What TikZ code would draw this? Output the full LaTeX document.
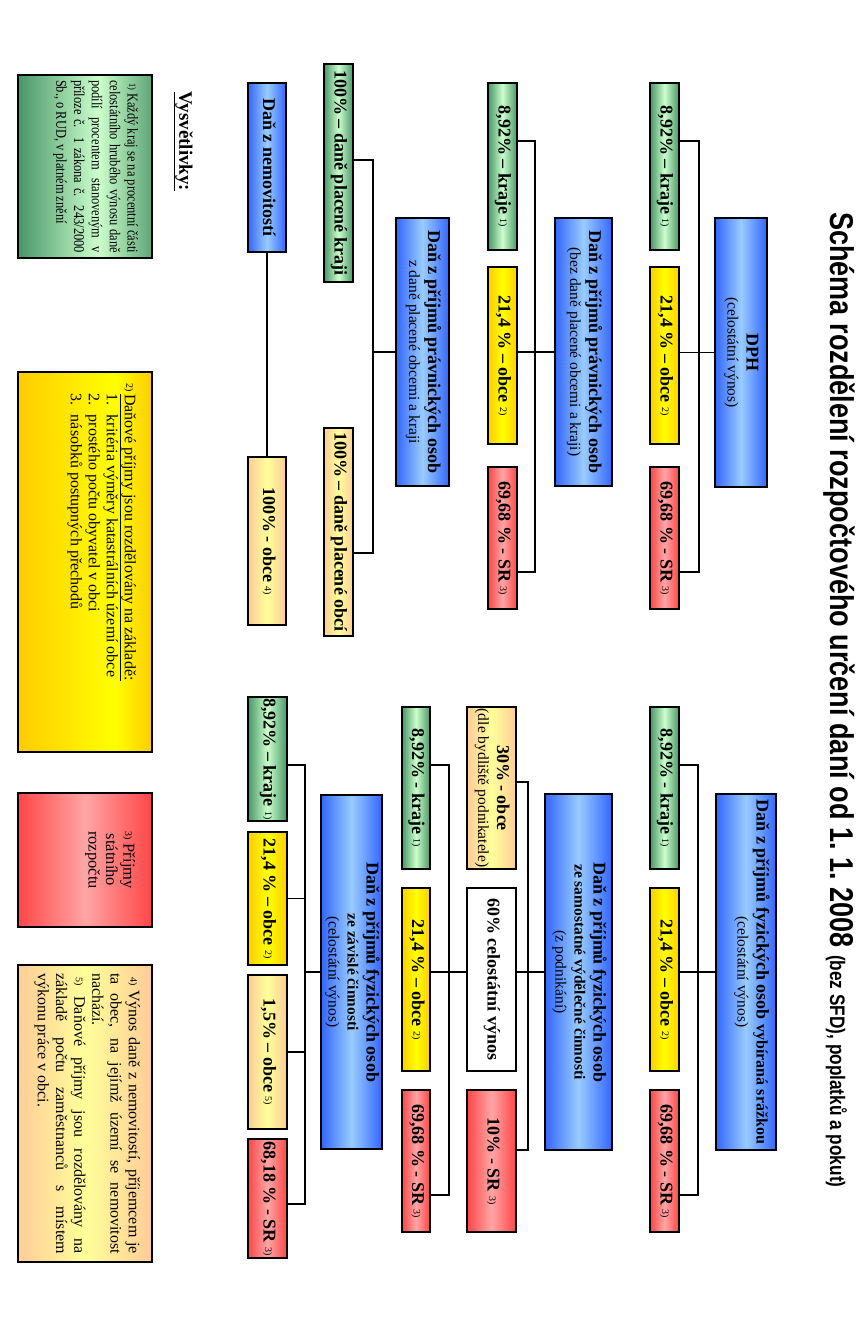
\documentclass[tikz,border=0pt]{standalone}
\usepackage{fontspec}
\setmainfont{Liberation Serif}
\newfontfamily\titlefont[FakeStretch=0.82]{Liberation Sans}
\newfontfamily\condfont[FakeStretch=0.83]{Liberation Serif}
\usepackage{graphicx}

\definecolor{gdark}{RGB}{72,150,104}
\definecolor{gmid}{RGB}{95,165,120}
\definecolor{glight}{RGB}{204,255,204}
\definecolor{ydark}{RGB}{255,204,0}
\definecolor{ylight}{RGB}{255,255,0}
\definecolor{rdark}{RGB}{255,70,70}
\definecolor{rlight}{RGB}{255,165,165}
\definecolor{bdark}{RGB}{51,102,255}
\definecolor{blight}{RGB}{153,204,255}
\definecolor{pdark}{RGB}{255,204,153}
\definecolor{plight}{RGB}{255,255,153}

\pgfdeclarehorizontalshading{legG}{100bp}{color(0bp)=(gdark); color(25bp)=(gdark); color(55bp)=(glight); color(75bp)=(gmid); color(100bp)=(gmid)}
\pgfdeclarehorizontalshading{legY}{100bp}{color(0bp)=(ydark); color(25bp)=(ydark); color(61bp)=(ylight); color(75bp)=(ydark); color(100bp)=(ydark)}

\newcommand\rt[1]{\rotatebox{-90}{\fontsize{15.5}{19}\selectfont\begin{tabular}{@{}c@{}}#1\end{tabular}}}
\newcommand\fnm[1]{\raisebox{1.5pt}{\fontsize{10}{10}\selectfont\mdseries #1}}
\newcommand\bt{\fontsize{18}{20}\selectfont\bfseries}
\newcommand\bs{\fontsize{15.5}{17}\selectfont\bfseries}

\tikzset{
  boxbase/.style={draw=black, line width=1.2pt, inner sep=0pt, align=center},
  gbox/.style={boxbase, left color=gdark, right color=gdark, middle color=glight},
  ybox/.style={boxbase, left color=ydark, right color=ydark, middle color=ylight},
  rbox/.style={boxbase, left color=rdark, right color=rdark, middle color=rlight},
  bbox/.style={boxbase, left color=bdark, right color=bdark, middle color=blight},
  pbox/.style={boxbase, left color=pdark, right color=pdark, middle color=plight},
  wbox/.style={boxbase, fill=white},
  lgbox/.style={boxbase, shade, shading=legG},
  lybox/.style={boxbase, shade, shading=legY},
  conn/.style={draw=black, line width=1.2pt},
  sz/.style 2 args={minimum width=#1pt, minimum height=#2pt},
}

\begin{document}
\begin{tikzpicture}[x=1pt,y=-1pt]
\useasboundingbox (0,0) rectangle (867,1339);

% ---------- title
\node[anchor=north, inner sep=0pt] (title) at (839,212) {\rotatebox{-90}{\titlefont\bfseries\fontsize{33}{36}\selectfont Schéma rozdělení rozpočtového určení daní od 1.~1.~2008 {\fontsize{21}{24}\selectfont (bez SFD), poplatků a pokut)}}};

% ---------- DPH
\node[bbox, sz={52}{269}] (dph) at (741,352.5) {\rt{\bt DPH\\(celostátní výnos)}};
\node[gbox, sz={29}{167}] (gA) at (664.5,166.5) {\rt{\bt 8,92\% – kraje \fnm{1)}}};
\node[ybox, sz={29}{177}] (yA) at (664.5,355.5) {\rt{\bt 21,4 \% – obce \fnm{2)}}};
\node[rbox, sz={29}{142}] (rA) at (664.5,538) {\rt{\bt 69,68 \% - SR \fnm{3)}}};
\coordinate (kA1) at (699,141);
\coordinate (kA3) at (699,572);
\draw[conn] (gA.east |- kA1) -- (kA1) -- (kA3) -- (rA.east |- kA3);
\draw[conn] (yA.east |- dph.west) -- (dph.west);

% ---------- DPPO (bez dane placene obcemi a kraji)
\node[bbox, sz={57}{268}] (pB) at (583.5,352) {\rt{\bt Daň z příjmů právnických osob\\(bez daně placené obcemi a kraji)}};
\node[gbox, sz={29}{167}] (gB) at (502.5,166.5) {\rt{\bt 8,92\% – kraje \fnm{1)}}};
\node[ybox, sz={29}{177}] (yB) at (502.5,355.5) {\rt{\bt 21,4 \% – obce \fnm{2)}}};
\node[rbox, sz={29}{142}] (rB) at (502.5,538) {\rt{\bt 69,68 \% - SR \fnm{3)}}};
\coordinate (kB1) at (535,141);
\coordinate (kB3) at (535,572);
\draw[conn] (gB.east |- kB1) -- (kB1) -- (kB3) -- (rB.east |- kB3);
\draw[conn] (yB.east |- pB.west) -- (pB.west);

% ---------- DPPO placena obcemi a kraji
\node[bbox, sz={53}{268}] (pC) at (422.5,352) {\rt{\bt Daň z příjmů právnických osob\\z daně placené obcemi a kraji}};
\node[gbox, sz={29}{218}] (gC) at (338.5,173) {\rt{\bt 100\% – daně placené kraji}};
\node[pbox, sz={29}{208}] (peC) at (338.5,532) {\rt{\bt 100\% – daně placené obcí}};
\coordinate (kC1) at (373,160);
\coordinate (kC3) at (373,553);
\draw[conn] (gC.east |- kC1) -- (kC1) -- (kC3) -- (peC.east |- kC3);
\draw[conn] (kC1 |- pC.west) -- (pC.west);

% ---------- dan z nemovitosti
\node[bbox, sz={38}{169}] (nem) at (267,167.5) {\rt{\bt Daň z nemovitostí}};
\node[pbox, sz={38}{168}] (peD) at (267,541) {\rt{\bt 100\% - obce \fnm{4)}}};
\draw[conn] (nem.south) -- (peD.north);

% ---------- DPFO srazkou
\node[bbox, sz={60}{356}] (vE) at (746,972) {\hspace*{10pt}\rt{\bt Daň z příjmů fyzických osob {\fontsize{16}{18}\selectfont vybíraná srážkou}\\(celostátní výnos)}};
\node[gbox, sz={29}{162}] (gE) at (664.5,788) {\rt{\bt 8,92\% - kraje \fnm{1)}}};
\node[ybox, sz={29}{183}] (yE) at (664.5,979.5) {\rt{\bt 21,4 \% – obce \fnm{2)}}};
\node[rbox, sz={29}{142}] (rE) at (664.5,1161) {\rt{\bt 69,68 \% - SR \fnm{3)}}};
\coordinate (kE1) at (698,765);
\coordinate (kE3) at (698,1195);
\draw[conn] (gE.east |- kE1) -- (kE1) -- (kE3) -- (rE.east |- kE3);
\draw[conn] (yE.east |- vE.west) -- (vE.west);

% ---------- DPFO z podnikani
\node[bbox, sz={67}{356}] (sF) at (578.5,972) {\rt{\bt Daň z příjmů fyzických osob\\ \bs ze samostatné výdělečné činnosti\\(z podnikání)}};
\node[pbox, sz={49}{162}] (peF) at (491.5,788) {\rt{\bt 30\% - obce\\(dle bydliště podnikatele)}};
\node[wbox, sz={49}{183}] (wF) at (491.5,979.5) {\rt{\bt 60\% celostátní výnos}};
\node[rbox, sz={49}{142}] (rF2) at (491.5,1161) {\rt{\bt 10\% - SR \fnm{3)}}};
\node[gbox, sz={28}{162}] (gF) at (416,788) {\rt{\bt 8,92\% - kraje \fnm{1)}}};
\node[ybox, sz={28}{183}] (yF) at (416,979.5) {\rt{\bt 21,4 \% – obce \fnm{2)}}};
\node[rbox, sz={28}{142}] (rF) at (416,1161) {\rt{\bt 69,68 \% - SR \fnm{3)}}};
\coordinate (kF1) at (449,765);
\coordinate (kF3) at (449,1195);
\coordinate (kF21) at (528,782);
\coordinate (kF23) at (528,1150);
\draw[conn] (gF.east |- kF1) -- (kF1) -- (kF3) -- (rF.east |- kF3);
\draw[conn] (yF.east |- sF.west) -- (wF.west |- sF.west);
\draw[conn] (peF.east |- kF21) -- (kF21) -- (kF23) -- (rF2.east |- kF23);
\draw[conn] (wF.east |- sF.west) -- (sF.west);

% ---------- DPFO ze zavisle cinnosti
\node[bbox, sz={61}{354}] (zG) at (351.5,972) {\rt{\bt Daň z příjmů fyzických osob\\ \bs ze závislé činnosti\\(celostátní výnos)}};
\node[gbox, sz={39}{124}] (gG) at (267.5,759) {\rt{\bt 8,92\% – kraje \fnm{1)}}};
\node[ybox, sz={39}{133}] (yG) at (267.5,898.5) {\rt{\bt 21,4 \% – obce \fnm{2)}}};
\node[pbox, sz={39}{154}] (peG) at (267.5,1052) {\rt{\bt 1,5\% – obce \fnm{5)}}};
\node[rbox, sz={39}{119}] (rG) at (267.5,1198.5) {\rt{\bt 68,18 \% - SR \fnm{3)}}};
\coordinate (kG1) at (305,765);
\coordinate (kG3) at (305,1204);
\draw[conn] (gG.east |- kG1) -- (kG1) -- (kG3) -- (rG.east |- kG3);
\draw[conn] (yG.east) -- (yG.east -| kG1);
\draw[conn] (peG.east) -- (peG.east -| kG1);
\draw[conn] (kG1 |- zG.west) -- (zG.west);

% ---------- legend
\node[inner sep=0pt] (vys) at (183,141.5) {\rotatebox{-90}{\fontsize{19}{22}\selectfont\bfseries\underline{Vysvětlivky:}}};

\node[lgbox, sz={134}{183}] (L1) at (85,166.5) {\rotatebox{-90}{\parbox[c][124pt][t]{173pt}{\condfont\fontsize{15}{17.8}\selectfont\vspace*{9pt}%
\hspace*{3pt}\fnm{1)} Každý kraj se na procentní části\linebreak
celostátního hrubého výnosu daně\linebreak
podílí procentem stanoveným v\linebreak
příloze č. 1 zákona č. 243/2000\linebreak
Sb., o RUD, v platném znění}}};

\node[lybox, sz={134}{380}] (L2) at (85,562) {\rotatebox{-90}{\parbox[c][124pt][t]{362pt}{\fontsize{16}{18}\selectfont\vspace*{11pt}%
\hspace*{2pt}\fnm{2)}\,\underline{Daňové příjmy jsou rozdělovány na základě:}\par
\hspace*{12pt}1.\hspace{10pt}kritéria výměry katastrálních území obce\par
\hspace*{12pt}2.\hspace{10pt}prostého počtu obyvatel v obci\par
\hspace*{12pt}3.\hspace{10pt}násobků postupných přechodů}}};

\node[rbox, sz={134}{134}] (L3) at (85,860) {\rotatebox{-90}{\parbox[c][124pt][t]{124pt}{\centering\fontsize{16.5}{17.5}\selectfont\vspace*{12pt}%
\fnm{3)} Příjmy\\státního\\rozpočtu}}};

\node[pbox, sz={134}{297}] (L4) at (85,1113.5) {\rotatebox{-90}{\parbox[c][124pt][t]{281pt}{\fontsize{16}{18.2}\selectfont\vspace*{7pt}%
\hspace*{4pt}\fnm{4)} Výnos daně z nemovitostí, příjemcem je\linebreak
ta obec, na jejímž území se nemovitost\linebreak
nachází.\par
\hspace*{4pt}\fnm{5)} Daňové příjmy jsou rozdělovány na\linebreak
základě počtu zaměstnanců s místem\linebreak
výkonu práce v obci.}}};

\end{tikzpicture}
\end{document}
